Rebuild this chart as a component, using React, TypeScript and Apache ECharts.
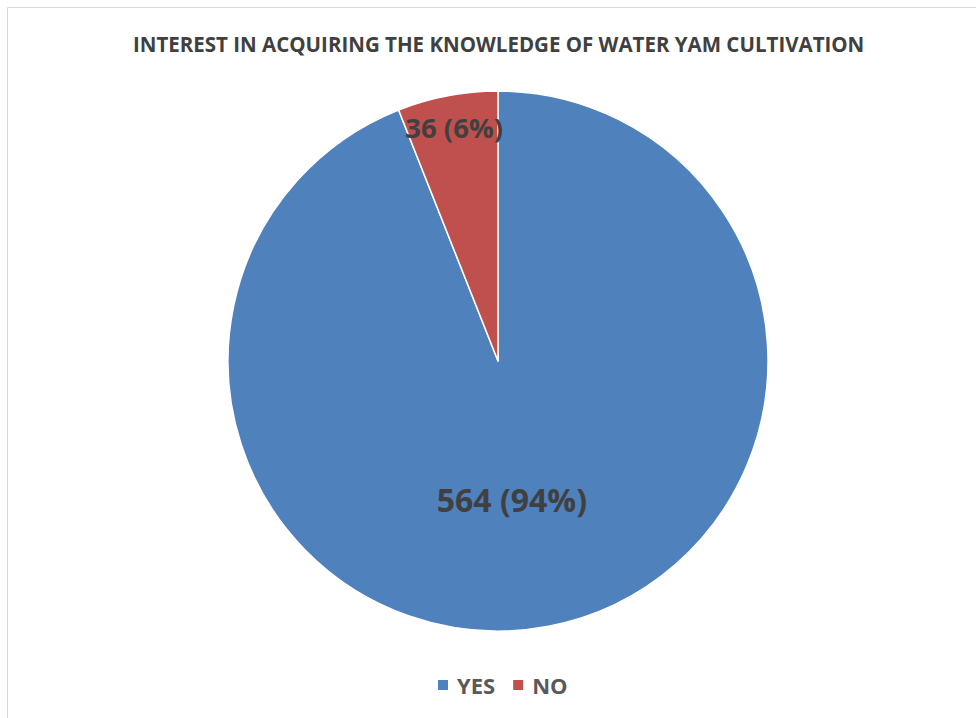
import React, { useEffect, useRef } from "react";
import * as echarts from "echarts";

const TITLE = "INTEREST IN ACQUIRING THE KNOWLEDGE OF WATER YAM CULTIVATION";
const categories = ["YES", "NO"];
const values = [564, 36];
const percents = ["94%", "6%"];
const colors = ["#4F81BD", "#C0504D"];
const labelSizes = [32, 27.5];
const labelOffsets = [
  [-12, 3],
  [-18, -98],
];

export default function App() {
  const ref = useRef<HTMLDivElement>(null);
  useEffect(() => {
    if (!ref.current) return;
    const chart = echarts.init(ref.current, undefined, { renderer: "svg" });
    const font = "'Open Sans', 'Noto Sans', sans-serif";
    chart.setOption({
      animation: false,
      backgroundColor: "#ffffff",
      title: {
        text: TITLE,
        left: 128,
        top: 28,
        textStyle: {
          fontFamily: font,
          fontWeight: "bold",
          fontSize: 20.5,
          color: "#404040",
        },
      },
      legend: {
        data: categories,
        bottom: 17,
        left: 431,
        icon: "rect",
        itemWidth: 12,
        itemHeight: 12,
        itemGap: 16,
        textStyle: {
          fontFamily: font,
          fontWeight: "bold",
          fontSize: 22,
          color: "#595959",
          padding: [0, 0, 0, 3],
        },
      },
      graphic: [
        {
          type: "rect",
          shape: { x: 7.5, y: 7.5, width: 1200, height: 1200 },
          style: { fill: "none", stroke: "#d9d9d9", lineWidth: 1 },
          silent: true,
        },
      ],
      series: [
        {
          type: "pie",
          center: [498, 361],
          radius: 270,
          startAngle: 90,
          clockwise: true,
          data: categories.map((c, i) => ({
            name: c,
            value: values[i],
            itemStyle: { color: colors[i] },
            label: { fontSize: labelSizes[i] },
          })),
          itemStyle: { borderColor: "#ffffff", borderWidth: 1.5 },
          label: {
            show: true,
            position: "inside",
            formatter: (p: any) => `${p.value} (${percents[p.dataIndex]})`,
            fontFamily: font,
            fontWeight: "bold",
            fontSize: 32,
            color: "#404040",
          },
          labelLayout: (p: any) => ({
            dx: labelOffsets[p.dataIndex][0],
            dy: labelOffsets[p.dataIndex][1],
          }),
          labelLine: { show: false },
          emphasis: { disabled: true },
        },
      ],
    });
    return () => chart.dispose();
  }, []);
  return (
    <div
      ref={ref}
      style={{ position: "absolute", left: 0, top: 0, width: 976, height: 718 }}
    />
  );
}
